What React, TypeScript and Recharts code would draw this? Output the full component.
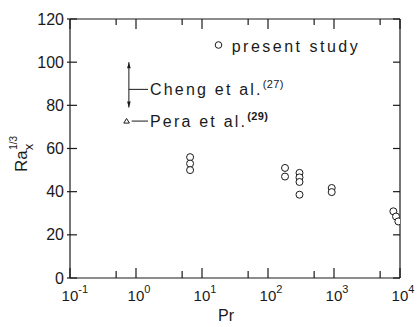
import React from 'react'
import {
  ScatterChart, Scatter, XAxis, YAxis, ReferenceLine, Legend,
} from 'recharts'

// Pr axis (log) and Ra_x^(1/3) axis
const PR_MAJOR = [0.1, 1, 10, 100, 1000, 10000]
const PR_MINOR = [0.5, 5, 50, 500, 5000]
const PR_TICKS = [...PR_MAJOR, ...PR_MINOR].sort((a, b) => a - b)
const RA_TICKS = [0, 20, 40, 60, 80, 100, 120]

// present study
const presentPr = [6.6, 6.6, 6.6, 181, 181, 300, 300, 300, 300, 923, 923, 7930, 8700, 9440]
const presentRa = [56, 53, 50, 51, 47, 48.7, 46.6, 44.5, 38.6, 41.7, 39.8, 30.9, 28.5, 26.2]

// Pera et al.(29)
const peraPr = [0.72]
const peraRa = [72.7]

// Cheng et al.(27) range
const chengPr = 0.78
const chengRange = [79, 100]

const presentData = presentPr.map((pr, i) => ({ pr, ra: presentRa[i] }))
const peraData = peraPr.map((pr, i) => ({ pr, ra: peraRa[i] }))

const FONT = '"Liberation Sans", Arial, sans-serif'
const INK = '#1a1a1a'

const isMajor = (v: number) => Math.abs(Math.log10(v) - Math.round(Math.log10(v))) < 1e-6

function BottomTick({ x, y, payload }: any) {
  const v = payload.value
  const major = isMajor(v)
  return (
    <g>
      <line x1={x} x2={x} y1={y} y2={y - (major ? 10 : 7)} stroke={INK} strokeWidth={1.2} />
      {major && (
        <text x={x - 8.4} y={y + 23} fontSize={15} fontFamily={FONT} fill={INK} textAnchor="start">
          10
          <tspan dy={-8} fontSize={11}>{Math.round(Math.log10(v))}</tspan>
        </text>
      )}
    </g>
  )
}

function TopTick({ x, y, payload }: any) {
  const major = isMajor(payload.value)
  return <line x1={x} x2={x} y1={y} y2={y + (major ? 10 : 6)} stroke={INK} strokeWidth={1.2} />
}

function LeftTick({ x, y, payload }: any) {
  return (
    <g>
      <line x1={x - 3} x2={x + 7} y1={y} y2={y} stroke={INK} strokeWidth={1.2} />
      <text x={x - 6} y={y + 5.5} fontSize={16} fontFamily={FONT} fill={INK} textAnchor="end">
        {payload.value}
      </text>
    </g>
  )
}

function RightTick({ x, y }: any) {
  return <line x1={x - 7} x2={x} y1={y} y2={y} stroke={INK} strokeWidth={1.2} />
}

const OpenCircle = (props: any) => (
  <circle cx={props.cx} cy={props.cy} r={3.5} fill="#fff" stroke={INK} strokeWidth={1} />
)

const Triangle = (props: any) => {
  const { cx, cy } = props
  return (
    <polygon
      points={`${cx - 2.8},${cy + 2} ${cx + 2.8},${cy + 2} ${cx},${cy - 2.6}`}
      fill="#fff" stroke={INK} strokeWidth={1}
    />
  )
}

function ChengArrow(p: any) {
  const { x1, y1, x2, y2 } = p
  const top = Math.min(y1, y2)
  const bot = Math.max(y1, y2)
  return (
    <g>
      <line x1={x1} x2={x2} y1={top} y2={bot} stroke={INK} strokeWidth={1} />
      <polygon points={`${x1},${top} ${x1 - 1.8},${top + 6} ${x1 + 1.8},${top + 6}`} fill={INK} />
      <polygon points={`${x1},${bot} ${x1 - 1.8},${bot - 6} ${x1 + 1.8},${bot - 6}`} fill={INK} />
    </g>
  )
}

function leader(label: string, sup: string, bold: boolean) {
  return (p: any) => (
    <g>
      <line x1={p.x1} x2={p.x2} y1={p.y1} y2={p.y2} stroke={INK} strokeWidth={1} />
      <text x={p.x2 + 2} y={p.y1 + 6} fontSize={16} fontFamily={FONT} fill={INK} letterSpacing={2.2}>
        {label}
        <tspan dy={-7} fontSize={11} letterSpacing={0.4} fontWeight={bold ? 700 : 400}>{sup}</tspan>
      </text>
    </g>
  )
}

function LegendBox() {
  return (
    <svg width={170} height={22}>
      <circle cx={6.5} cy={10} r={3.3} fill="#fff" stroke={INK} strokeWidth={1} />
      <text x={19.7} y={17} fontSize={16} fontFamily={FONT} fill={INK} letterSpacing={2.5}>
        present study
      </text>
    </svg>
  )
}

export default function App() {
  return (
    <div style={{ position: 'relative', width: 417, height: 327, background: '#fff' }}>
      <style>{`body{margin:0}`}</style>
      <ScatterChart width={417} height={327} margin={{ top: 0, right: 0, bottom: 0, left: 0 }}>
        <XAxis
          xAxisId="bottom" dataKey="pr" type="number" scale="log" domain={[0.1, 10000]}
          allowDataOverflow ticks={PR_TICKS} interval={0} tickSize={0} tickMargin={0}
          tickLine={false} tick={<BottomTick />} height={49}
          axisLine={{ stroke: INK, strokeWidth: 1.2 }}
          label={{
            content: () => (
              <text x={218} y={321} fontSize={16} fontFamily={FONT} fill={INK}>Pr</text>
            ),
          }}
        />
        <XAxis
          xAxisId="top" orientation="top" dataKey="pr" type="number" scale="log" domain={[0.1, 10000]}
          allowDataOverflow ticks={PR_TICKS} interval={0} tickSize={0} tickMargin={0}
          tickLine={false} tick={<TopTick />} height={19}
          axisLine={{ stroke: INK, strokeWidth: 1.2 }}
        />
        <YAxis
          yAxisId="left" dataKey="ra" type="number" domain={[0, 120]} allowDataOverflow
          ticks={RA_TICKS} interval={0} tickSize={0} tickMargin={0} tickLine={false}
          tick={<LeftTick />} width={70} axisLine={{ stroke: INK, strokeWidth: 1.2 }}
          label={{
            content: () => (
              <text transform="translate(27,172) rotate(-90)" fontFamily={FONT} fill={INK} fontSize={17}>
                Ra
                <tspan fontSize={13} dy={6}>x</tspan>
                <tspan fontSize={10} dx={-6} dy={-16}>1/3</tspan>
              </text>
            ),
          }}
        />
        <YAxis
          yAxisId="right" orientation="right" dataKey="ra" type="number" domain={[0, 120]}
          allowDataOverflow ticks={RA_TICKS} interval={0} tickSize={0} tickMargin={0}
          tickLine={false} tick={<RightTick />} width={17}
          axisLine={{ stroke: INK, strokeWidth: 1.2 }}
        />
        <Legend
          verticalAlign="middle" align="center" layout="horizontal"
          content={() => <LegendBox />}
          wrapperStyle={{ position: 'absolute', left: 212, top: 35, width: 170, height: 22 }}
        />
        <ReferenceLine
          xAxisId="bottom" yAxisId="left" ifOverflow="visible"
          segment={[{ x: chengPr, y: chengRange[1] }, { x: chengPr, y: chengRange[0] }]}
          shape={ChengArrow}
        />
        <ReferenceLine
          xAxisId="bottom" yAxisId="left" ifOverflow="visible"
          segment={[{ x: chengPr, y: 87.4 }, { x: 1.52, y: 87.4 }]}
          shape={leader('Cheng et al.', '(27)', false)}
        />
        <ReferenceLine
          xAxisId="bottom" yAxisId="left" ifOverflow="visible"
          segment={[{ x: 0.86, y: peraRa[0] }, { x: 1.52, y: peraRa[0] }]}
          shape={leader('Pera et al.', '(29)', true)}
        />
        <Scatter
          name="present study" data={presentData} xAxisId="bottom" yAxisId="left"
          shape={OpenCircle} isAnimationActive={false}
        />
        <Scatter
          name="Pera et al." data={peraData} xAxisId="top" yAxisId="right"
          shape={Triangle} isAnimationActive={false}
        />
      </ScatterChart>
    </div>
  )
}
